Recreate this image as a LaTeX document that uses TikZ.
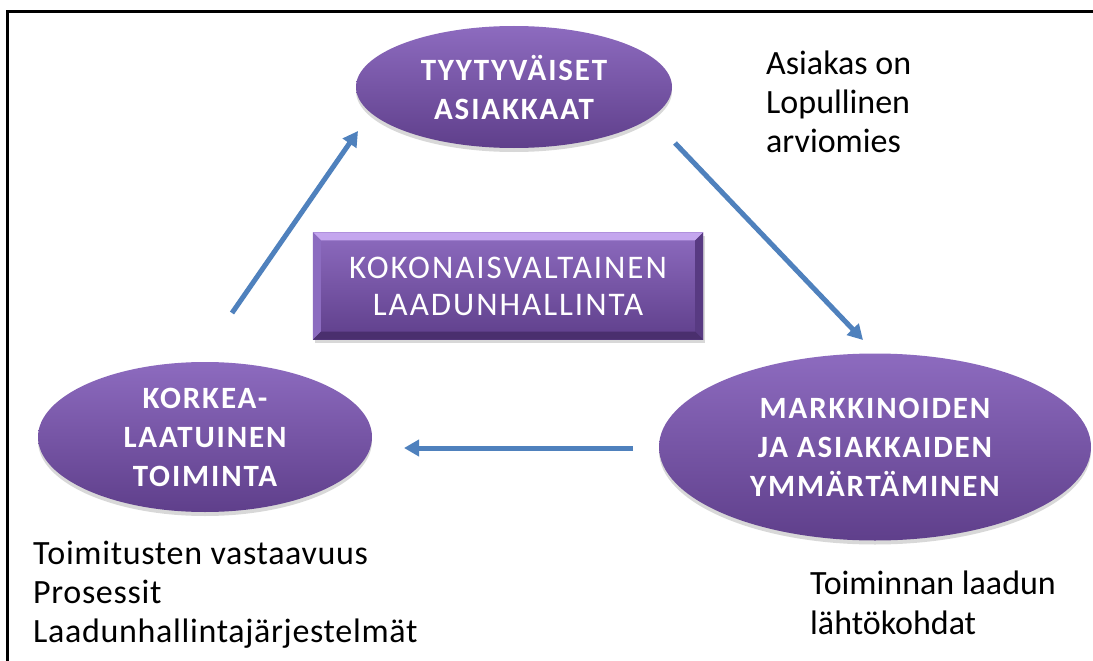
\documentclass[tikz,border=0pt]{standalone}
\usepackage{fontspec}
\setmainfont{Carlito}
\newfontfamily\shapefont[LetterSpace=6]{Carlito}
\usetikzlibrary{shapes.geometric,arrows.meta,shadows,calc}
\definecolor{purpTop}{HTML}{8D6BBF}
\definecolor{purpBot}{HTML}{5F3F8B}
\definecolor{bevelLight}{HTML}{C4A6EE}
\definecolor{bevelSide}{HTML}{8C6CC0}
\definecolor{bevelDark}{HTML}{583A82}
\definecolor{bevelDeep}{HTML}{4A2F6E}
\definecolor{flowBlue}{HTML}{4F81BD}
\begin{document}
\begin{tikzpicture}[x=1pt,y=-1pt,
  bubble/.style={ellipse, inner sep=0pt, draw=none,
    top color=purpTop, bottom color=purpBot,
    drop shadow={opacity=0.3, shadow xshift=0pt, shadow yshift=-4pt}},
  shapetext/.style={text=white, align=center, inner sep=0pt,
    font=\shapefont\bfseries\fontsize{31}{39}\selectfont},
  panel/.style={rectangle, inner sep=0pt, draw=none,
    top color=purpTop, bottom color=purpBot,
    drop shadow={opacity=0.3, shadow xshift=2pt, shadow yshift=-3pt}},
  flow/.style={draw=flowBlue, line width=5pt,
    -{Triangle[length=15pt,width=16pt]}},
  note/.style={anchor=north west, inner sep=0pt, align=left, text=black},
]
\fill[white] (0,0) rectangle (1093,661);
\useasboundingbox (0,0) rectangle (1093,661);

% frame (only its top and left sides fall inside the page)
\draw[line width=3pt] (1100,12) -- (7,12) -- (7,670);

% the three cycle stages
\node[bubble, minimum width=316pt, minimum height=122pt] (top) at (514,87) {};
\node[shapetext] (top-t) at (top.center) {TYYTYVÄISET\\ASIAKKAAT};

\node[bubble, minimum width=334pt, minimum height=150pt] (left) at (205,437) {};
\node[shapetext] (left-t) at (left.center) {KORKEA-\\LAATUINEN\\TOIMINTA};

\node[bubble, minimum width=432pt, minimum height=187pt] (right) at (875,447) {};
\node[shapetext] (right-t) at (right.center) {MARKKINOIDEN\\JA ASIAKKAIDEN\\YMMÄRTÄMINEN};

% bevelled centre panel
\node[panel, minimum width=390pt, minimum height=107pt] (core) at (508,286) {};
\fill[bevelLight] (core.north west) -- (core.north east) -- ($(core.north east)+(-8,8)$) -- ($(core.north west)+(8,8)$) -- cycle;
\fill[bevelSide] (core.north west) -- ($(core.north west)+(8,8)$) -- ($(core.south west)+(8,-8)$) -- (core.south west) -- cycle;
\fill[bevelDark] (core.north east) -- ($(core.north east)+(-8,8)$) -- ($(core.south east)+(-8,-8)$) -- (core.south east) -- cycle;
\fill[bevelDeep] (core.south west) -- ($(core.south west)+(8,-8)$) -- ($(core.south east)+(-8,-8)$) -- (core.south east) -- cycle;
\node[shapetext, font=\shapefont\fontsize{33}{37}\selectfont] (core-t) at (core.center) {KOKONAISVALTAINEN\\LAADUNHALLINTA};

% arrows of the cycle
\coordinate (a1s) at (232,313);
\coordinate (a1e) at (358,131);
\coordinate (a2s) at (675,143);
\coordinate (a2e) at (863,340);
\coordinate (a3s) at (633,448);
\coordinate (a3e) at (404,448);
\draw[flow] (a1s) -- (a1e);
\draw[flow] (a2s) -- (a2e);
\draw[flow] (a3s) -- (a3e);

% side notes
\node[note, font=\fontsize{34}{39}\selectfont] (n1) at (766,51) {Asiakas on\\Lopullinen\\arviomies};
\node[note, font=\fontsize{34}{39}\addfontfeatures{LetterSpace=2}\selectfont] (n2) at (33,541) {Toimitusten vastaavuus\\Prosessit\\Laadunhallintajärjestelmät};
\node[note, font=\fontsize{34}{40}\selectfont] (n3) at (810,571) {Toiminnan laadun\\lähtökohdat};
\end{tikzpicture}
\end{document}
